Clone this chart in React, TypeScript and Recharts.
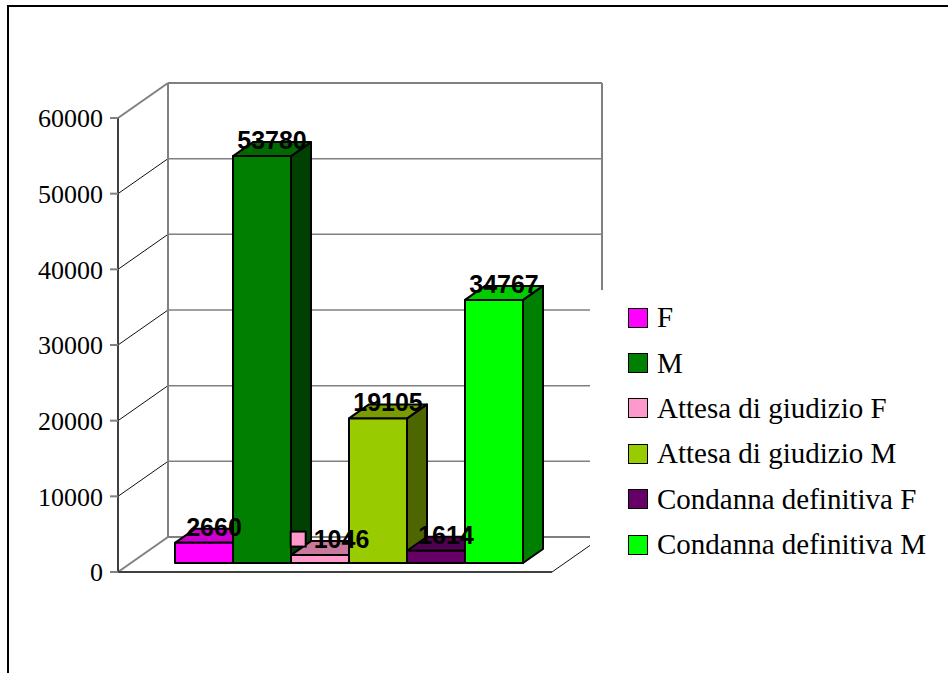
import React from 'react';
import { BarChart, Bar, XAxis, YAxis, CartesianGrid, Legend, LabelList } from 'recharts';

// ---- data ----
const categories = ['Totale'];
const seriesNames = [
  'F',
  'M',
  'Attesa di giudizio F',
  'Attesa di giudizio M',
  'Condanna definitiva F',
  'Condanna definitiva M',
];
const seriesValues = [2660, 53780, 1046, 19105, 1614, 34767];
const yTicks = [0, 10000, 20000, 30000, 40000, 50000, 60000];

// ---- styling ----
const faceColors = [
  { front: '#ff00ff', top: '#cc00cc', side: '#990099' },
  { front: '#007f00', top: '#006a00', side: '#004000' },
  { front: '#ff99cc', top: '#c97a9c', side: '#995c7a' },
  { front: '#99cc00', top: '#7a9c00', side: '#4d6600' },
  { front: '#660066', top: '#4f004f', side: '#330033' },
  { front: '#00ff00', top: '#00cc00', side: '#008000' },
];
// series whose value label carries a small legend key
const labelWithKey = [false, false, true, false, false, false];

// oblique projection: full depth of the floor / walls
const WALL_DX = 50;
const WALL_DY = -35;
// bars stand part-way into the depth
const BAR_SHIFT_X = 14;
const BAR_SHIFT_Y = -9;
// thickness of each bar
const BAR_DX = 20;
const BAR_DY = -14;

const LABEL_FONT = '"Liberation Sans", Arial, sans-serif';
const SERIF_FONT = '"Liberation Serif", "Times New Roman", serif';

const data = categories.map((name) => {
  const row: Record<string, string | number> = { name };
  seriesValues.forEach((v, k) => {
    row[`s${k}`] = v;
  });
  return row;
});

type Faces = { front: string; top: string; side: string };

const makeBox = (colors: Faces) => (props: any) => {
  const { x, y, width, height } = props;
  if (width == null || height == null) return <g />;
  const fx = x + BAR_SHIFT_X;
  const fy = y + BAR_SHIFT_Y;
  const w = width;
  const h = height;
  const stroke = { stroke: '#000', strokeWidth: 2, strokeLinejoin: 'round' as const };
  return (
    <g>
      <polygon
        points={`${fx + w},${fy} ${fx + w + BAR_DX},${fy + BAR_DY} ${fx + w + BAR_DX},${fy + h + BAR_DY} ${fx + w},${fy + h}`}
        fill={colors.side}
        {...stroke}
      />
      <polygon
        points={`${fx},${fy} ${fx + w},${fy} ${fx + w + BAR_DX},${fy + BAR_DY} ${fx + BAR_DX},${fy + BAR_DY}`}
        fill={colors.top}
        {...stroke}
      />
      <rect x={fx} y={fy} width={w} height={h} fill={colors.front} {...stroke} />
    </g>
  );
};

const makeValueLabel = (withKey: boolean, keyColor: string) => (props: any) => {
  const vb = props.viewBox && props.viewBox.width != null ? props.viewBox : props;
  const { x, y, width } = vb;
  const value = props.value;
  const fontSize = 25;
  const cx = x + width / 2 + BAR_SHIFT_X + BAR_DX / 2;
  const baseline = y + BAR_SHIFT_Y - 7;
  const text = String(value);
  if (!withKey) {
    return (
      <text
        x={cx}
        y={baseline}
        textAnchor="middle"
        fontFamily={LABEL_FONT}
        fontWeight="bold"
        fontSize={fontSize}
        fill="#000"
      >
        {text}
      </text>
    );
  }
  const keySize = 15;
  const gap = 8;
  const textW = text.length * 0.556 * fontSize;
  const left = cx - (keySize + gap + textW) / 2;
  return (
    <g>
      <rect
        x={left}
        y={baseline - 9 - keySize / 2}
        width={keySize}
        height={keySize}
        fill={keyColor}
        stroke="#000"
        strokeWidth={2}
      />
      <text
        x={left + keySize + gap}
        y={baseline}
        textAnchor="start"
        fontFamily={LABEL_FONT}
        fontWeight="bold"
        fontSize={fontSize}
        fill="#000"
      >
        {text}
      </text>
    </g>
  );
};

// back wall, left wall and floor drawn from the value-axis grid positions
const renderWallLine = (props: any) => {
  const { x1, y1, x2, index } = props;
  const pts: number[] = Array.isArray(props.horizontalPoints) && props.horizontalPoints.length
    ? props.horizontalPoints
    : [props.y, props.y + props.height];
  const top = Math.min(...pts);
  const bottom = Math.max(...pts);
  const isTop = Math.abs(y1 - top) < 0.5;
  const isBottom = Math.abs(y1 - bottom) < 0.5;
  const edge = isTop || isBottom;
  return (
    <g key={`wall-${index}`}>
      <line
        x1={x1 + WALL_DX}
        y1={y1 + WALL_DY}
        x2={x2 + WALL_DX}
        y2={y1 + WALL_DY}
        stroke="#808080"
        strokeWidth={edge ? 2 : 1.5}
      />
      <line
        x1={x1}
        y1={y1}
        x2={x1 + WALL_DX}
        y2={y1 + WALL_DY}
        stroke={edge ? '#808080' : '#111'}
        strokeWidth={edge ? 2 : 1}
      />
      {isBottom && (
        <line x1={x2} y1={y1} x2={x2 + WALL_DX} y2={y1 + WALL_DY} stroke="#111" strokeWidth={1} />
      )}
      {isTop && (
        <>
          <line
            x1={x1 + WALL_DX}
            y1={top + WALL_DY}
            x2={x1 + WALL_DX}
            y2={bottom + WALL_DY}
            stroke="#808080"
            strokeWidth={2}
          />
          <line
            x1={x2 + WALL_DX}
            y1={top + WALL_DY}
            x2={x2 + WALL_DX}
            y2={bottom + WALL_DY}
            stroke="#808080"
            strokeWidth={2}
          />
        </>
      )}
    </g>
  );
};

const renderLegend = () => (
  <div style={{ paddingTop: 5 }}>
    {seriesNames.map((name, k) => (
      <div
        key={name}
        style={{ display: 'flex', alignItems: 'center', height: 45.4 }}
      >
        <div
          style={{
            marginLeft: 38,
            width: 20,
            height: 20,
            boxSizing: 'border-box',
            border: '1.5px solid #000',
            background: faceColors[k].front,
          }}
        />
        <span
          style={{
            marginLeft: 9,
            fontFamily: SERIF_FONT,
            fontSize: 29,
            lineHeight: 1,
            color: '#000',
            whiteSpace: 'nowrap',
          }}
        >
          {name}
        </span>
      </div>
    ))}
  </div>
);

export default function App() {
  return (
    <div
      style={{
        position: 'fixed',
        left: 0,
        top: 0,
        width: 948,
        height: 673,
        overflow: 'hidden',
        background: '#fff',
      }}
    >
      <div
        style={{
          position: 'absolute',
          left: 7,
          top: 5,
          width: 1000,
          height: 1000,
          border: '2px solid #000',
        }}
      />
      <div style={{ position: 'absolute', left: 0, top: 0 }}>
        <BarChart
          width={948}
          height={673}
          data={data}
          margin={{ top: 118, right: 396, bottom: 100, left: 0 }}
          barGap={0}
          barCategoryGap="10%"
        >
          <CartesianGrid vertical={false} horizontal={renderWallLine} />
          <XAxis
            dataKey="name"
            tick={false}
            tickLine={false}
            height={1}
            axisLine={{ stroke: '#404040', strokeWidth: 2 }}
          />
          <YAxis
            width={118}
            domain={[0, 60000]}
            ticks={yTicks}
            interval={0}
            tickSize={8}
            tickMargin={7}
            axisLine={{ stroke: '#404040', strokeWidth: 2 }}
            tickLine={{ stroke: '#808080', strokeWidth: 2 }}
            tick={{ fill: '#000', fontSize: 26, fontFamily: SERIF_FONT }}
          />
          <Legend
            layout="vertical"
            align="center"
            verticalAlign="middle"
            content={renderLegend}
            wrapperStyle={{
              left: 590,
              top: 290,
              width: 358,
              height: 300,
              background: '#fff',
            }}
          />
          {seriesNames.map((name, k) => (
            <Bar
              key={name}
              dataKey={`s${k}`}
              name={name}
              fill={faceColors[k].front}
              barSize={58}
              isAnimationActive={false}
              shape={makeBox(faceColors[k])}
            >
              <LabelList
                dataKey={`s${k}`}
                content={makeValueLabel(labelWithKey[k], faceColors[k].front)}
              />
            </Bar>
          ))}
        </BarChart>
      </div>
    </div>
  );
}
